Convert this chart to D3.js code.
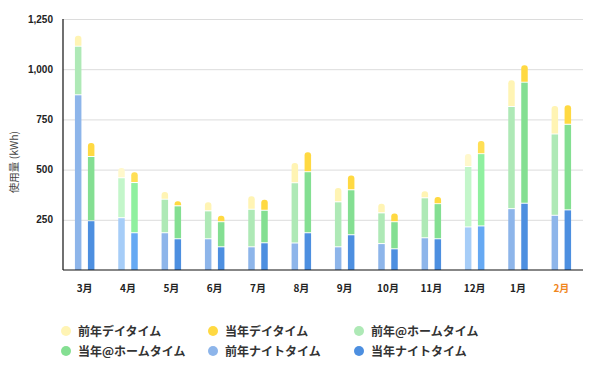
<!doctype html>
<html>
  <head>
    <meta charset="utf-8">
    <script src="https://cdnjs.cloudflare.com/ajax/libs/d3/7.8.5/d3.min.js"></script>
    <style>
      body { margin: 0; background: #fff; }
      text { font-family: "Noto Sans CJK JP", "Liberation Sans", sans-serif; }
    </style>
  </head>
  <body>
    <svg id="chart" width="597" height="372"></svg>
    <script>
        var months = ["3月", "4月", "5月", "6月", "7月", "8月", "9月", "10月", "11月", "12月", "1月", "2月"];
        var yTicks = [250, 500, 750, 1000, 1250];

        // previous year (前年)
        var prevNight = [870, 258, 183, 153, 113, 132, 113, 129, 158, 212, 303, 270];
        var prevHome  = [242, 199, 167, 139, 187, 300, 224, 153, 199, 301, 509, 405];
        var prevDay   = [55, 51, 38, 46, 67, 101, 71, 48, 35, 65, 133, 142];
        // current year (当年)
        var curNight = [243, 183, 153, 113, 133, 183, 173, 103, 153, 217, 330, 297];
        var curHome  = [320, 250, 164, 125, 162, 304, 224, 135, 175, 360, 603, 426];
        var curDay   = [70, 54, 25, 32, 55, 100, 73, 43, 35, 66, 87, 97];

        var legendNames = ["前年デイタイム", "当年デイタイム", "前年@ホームタイム", "当年@ホームタイム", "前年ナイトタイム", "当年ナイトタイム"];
        var litMonths = ["4月", "12月"];

        var colors = {
            prevDay: "#fff4b4", curDay: "#ffd942",
            prevHome: "#aee9b6", curHome: "#84df92",
            prevNight: "#8db5ea", curNight: "#4d8fe0"
        };
        var litColors = {
            prevDay: "#fff8cc", curDay: "#ffdf55",
            prevHome: "#c3f6ca", curHome: "#8ff09f",
            prevNight: "#a6cdf8", curNight: "#66a9f3"
        };

        var svg = d3.select("#chart");
        var pLeft = 63, pRight = 583, pTop = 19, pBottom = 270;

        var x = d3.scaleBand().domain(months).range([pLeft, pRight]);
        var y = d3.scaleLinear().domain([0, 1250]).range([pBottom, pTop]);

        // grid
        svg.append("g")
            .attr("transform", "translate(" + pLeft + ",0)")
            .call(d3.axisLeft(y).tickValues(yTicks).tickSize(-(pRight - pLeft)).tickFormat(""))
            .call(g => g.select(".domain").remove())
            .call(g => g.selectAll("line").attr("stroke", "#dcdcdc"));

        // y labels
        svg.append("g")
            .selectAll("text")
            .data(yTicks)
            .enter()
            .append("text")
            .attr("x", 53)
            .attr("y", d => y(d) + 3.5)
            .attr("text-anchor", "end")
            .style("font-family", "'Liberation Sans', sans-serif")
            .style("font-size", "10px")
            .style("font-weight", "bold")
            .attr("fill", "#222")
            .text(d => d3.format(",")(d));

        svg.append("text")
            .attr("transform", "translate(18,162) rotate(-90)")
            .attr("text-anchor", "middle")
            .style("font-size", "10.5px")
            .attr("fill", "#444")
            .text("使用量 (kWh)");

        var barW = 6.5, off = 6.5;

        function stack(nightArr, homeArr, dayArr, keys, dx) {
            months.forEach(function(m, i) {
                var cx = x(m) + x.bandwidth() / 2 + dx;
                var pal = litMonths.indexOf(m) >= 0 ? litColors : colors;
                var vals = [nightArr[i], homeArr[i], dayArr[i]];
                var base = 0;
                vals.forEach(function(v, k) {
                    var y0 = y(base), y1 = y(base + v);
                    var gap = k > 0 ? 1 : 0;
                    if (k === 2) {
                        var r = 3, xl = cx - barW / 2, xr = cx + barW / 2, yb = y0 - gap;
                        var p = "M" + xl + "," + yb + "L" + xl + "," + (y1 + r) +
                            "Q" + xl + "," + y1 + " " + (xl + r) + "," + y1 +
                            "L" + (xr - r) + "," + y1 +
                            "Q" + xr + "," + y1 + " " + xr + "," + (y1 + r) +
                            "L" + xr + "," + yb + "Z";
                        svg.append("path").attr("d", p).attr("fill", pal[keys[k]]);
                    } else {
                        svg.append("rect")
                            .attr("x", cx - barW / 2)
                            .attr("y", y1)
                            .attr("width", barW)
                            .attr("height", Math.max(0, y0 - y1 - gap))
                            .attr("fill", pal[keys[k]]);
                    }
                    base += v;
                });
            });
        }

        stack(prevNight, prevHome, prevDay, ["prevNight", "prevHome", "prevDay"], -off);
        stack(curNight, curHome, curDay, ["curNight", "curHome", "curDay"], off);

        // axes lines
        svg.append("line").attr("x1", pLeft).attr("x2", pLeft).attr("y1", pTop).attr("y2", pBottom)
            .attr("stroke", "#111").attr("stroke-width", 1.2);
        svg.append("line").attr("x1", pLeft).attr("x2", pRight).attr("y1", pBottom).attr("y2", pBottom)
            .attr("stroke", "#111").attr("stroke-width", 1.2);

        // x labels
        svg.append("g")
            .selectAll("text")
            .data(months)
            .enter()
            .append("text")
            .attr("x", d => x(d) + x.bandwidth() / 2)
            .attr("y", 292)
            .attr("text-anchor", "middle")
            .style("font-size", "10px")
            .style("font-weight", "bold")
            .attr("fill", d => d === "2月" ? "#f0861e" : "#222")
            .text(d => d);

        // legend
        var legendColors = [colors.prevDay, colors.curDay, colors.prevHome, colors.curHome, colors.prevNight, colors.curNight];
        var colX = [66, 213, 359];
        var leg = svg.append("g")
            .selectAll("g")
            .data(legendNames)
            .enter()
            .append("g")
            .attr("transform", (d, i) => "translate(" + colX[i % 3] + "," + (331 + Math.floor(i / 3) * 20) + ")");
        leg.append("circle").attr("r", 5).attr("fill", (d, i) => legendColors[i]);
        leg.append("text")
            .attr("x", 12)
            .attr("y", 4.5)
            .style("font-size", "12px")
            .style("font-weight", "bold")
            .attr("fill", "#333")
            .text(d => d);
    </script>
  </body>
</html>
